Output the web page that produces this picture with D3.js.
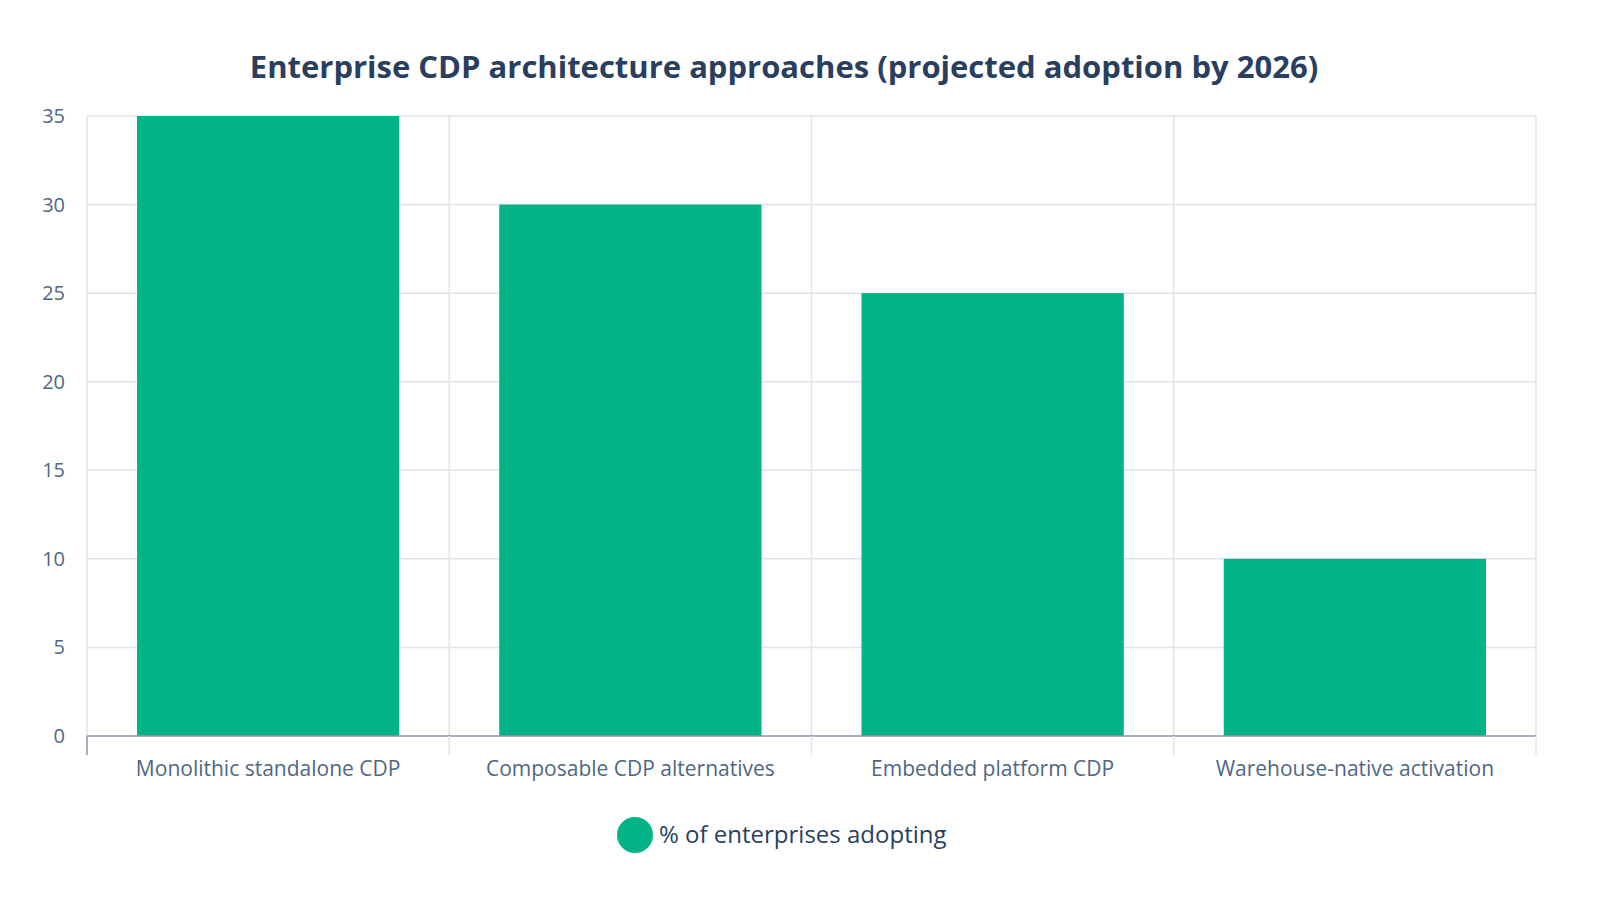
<!DOCTYPE html>
<html>
<head>
<meta charset="utf-8">
<script src="https://cdn.jsdelivr.net/npm/d3@7"></script>
<style>
body { margin: 0; background: #fff; overflow: hidden; }
svg { display: block; }
text { font-family: "Open Sans", "Noto Sans", sans-serif; }
</style>
</head>
<body>
<svg id="chart"></svg>
<script>
var categories = ["Monolithic standalone CDP", "Composable CDP alternatives", "Embedded platform CDP", "Warehouse-native activation"];
var adoption = [35, 30, 25, 10];
var yTicks = [0, 5, 10, 15, 20, 25, 30, 35];
var seriesName = "% of enterprises adopting";
var title = "Enterprise CDP architecture approaches (projected adoption by 2026)";

var W = 1600, H = 900;
var plotL = 87, plotR = 1536, plotT = 116, plotB = 736;
var barColor = "#02b388", gridColor = "#dfe3ec", tickColor = "#506784";

var svg = d3.select("#chart").attr("width", W).attr("height", H);

var x = d3.scaleBand().domain(categories).range([plotL, plotR]).padding(0);
var y = d3.scaleLinear().domain([0, 35]).range([plotB, plotT]);

// horizontal grid
svg.append("g").selectAll("line").data(yTicks.filter(function(d) { return d > 0; }))
    .enter().append("line")
    .attr("x1", plotL).attr("x2", plotR)
    .attr("y1", function(d) { return y(d); }).attr("y2", function(d) { return y(d); })
    .attr("stroke", gridColor).attr("stroke-width", 1.5);

// vertical grid at category boundaries
var bounds = categories.map(function(c) { return x(c); }).concat([plotR]);
svg.append("g").selectAll("line").data(bounds)
    .enter().append("line")
    .attr("x1", function(d) { return d; }).attr("x2", function(d) { return d; })
    .attr("y1", plotT).attr("y2", plotB)
    .attr("stroke", gridColor).attr("stroke-width", 1.5);

// bars
var inset = x.bandwidth() * 0.138;
svg.append("g").selectAll("rect").data(adoption)
    .enter().append("rect")
    .attr("x", function(d, i) { return x(categories[i]) + inset; })
    .attr("width", x.bandwidth() - 2 * inset)
    .attr("y", function(d) { return y(d); })
    .attr("height", function(d) { return plotB - y(d); })
    .attr("fill", barColor);

// zero line and x ticks
svg.append("line").attr("x1", plotL).attr("x2", plotR).attr("y1", plotB).attr("y2", plotB)
    .attr("stroke", "#8a97a8").attr("stroke-width", 1.5);
svg.append("g").selectAll("line").data(bounds)
    .enter().append("line")
    .attr("x1", function(d) { return d; }).attr("x2", function(d) { return d; })
    .attr("y1", plotB).attr("y2", plotB + 19)
    .attr("stroke", function(d, i) { return i == 0 ? "#8a97a8" : gridColor; })
    .attr("stroke-width", 1.5);

// y labels
svg.append("g").selectAll("text").data(yTicks)
    .enter().append("text")
    .attr("x", 65).attr("y", function(d) { return y(d); })
    .attr("dy", "0.35em").attr("text-anchor", "end")
    .attr("font-size", 20).attr("fill", tickColor)
    .text(function(d) { return d; });

// x labels
svg.append("g").selectAll("text").data(categories)
    .enter().append("text")
    .attr("x", function(d) { return x(d) + x.bandwidth() / 2; })
    .attr("y", 776).attr("text-anchor", "middle")
    .attr("font-size", 21).attr("fill", tickColor)
    .text(function(d) { return d; });

// title
svg.append("text").attr("x", 784).attr("y", 78).attr("text-anchor", "middle")
    .attr("font-size", 31).attr("font-weight", "bold").attr("fill", "#2a3f5f")
    .text(title);

// legend
svg.append("circle").attr("cx", 635).attr("cy", 835).attr("r", 18).attr("fill", barColor);
svg.append("text").attr("x", 659).attr("y", 835).attr("dy", "0.35em")
    .attr("font-size", 24).attr("fill", "#2a3f5f").text(seriesName);
</script>
</body>
</html>
